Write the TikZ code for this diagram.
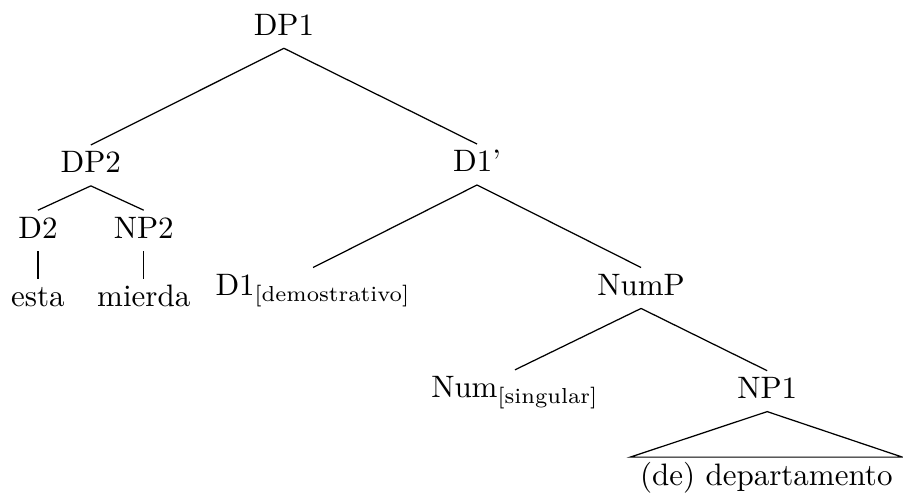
\documentclass[tikz,border=0pt]{standalone}
\usepackage{amsmath}
\usepackage{tikz}

\begin{document}
\begin{tikzpicture}[x=1cm,y=1cm,
  cat/.style={inner sep=1.8pt,text height=7pt,text depth=2.2pt,anchor=base}]
  \useasboundingbox (0,0) rectangle (10.24,-5.59);
  \node[cat] (dp1) at (3.22,-0.40) {DP1};
  \node[cat] (dp2) at (1.03,-1.96) {DP2};
  \node[cat] (d1bar) at (5.41,-1.95) {D1'};
  \node[cat] (d2) at (0.43,-2.70) {D2};
  \node[cat] (np2) at (1.63,-2.70) {NP2};
  \node[cat] (esta) at (0.43,-3.48) {esta};
  \node[cat] (mierda) at (1.63,-3.48) {mierda};
  \node[cat] (d1) at (3.55,-3.35) {D1$_{\text{[demostrativo]}}$};
  \node[cat] (nump) at (7.27,-3.35) {NumP};
  \node[cat] (num) at (5.84,-4.51) {Num$_{\text{[singular]}}$};
  \node[cat] (np1) at (8.70,-4.52) {NP1};
  \node[cat,inner xsep=3pt] (dep) at (8.69,-5.50) {(de) departamento};
  \draw (dp1.south) -- (dp2.north);
  \draw (dp1.south) -- (d1bar.north);
  \draw (dp2.south) -- (d2.north);
  \draw (dp2.south) -- (np2.north);
  \draw (d2.south) -- (esta.north);
  \draw (np2.south) -- (mierda.north);
  \draw (d1bar.south) -- (d1.north);
  \draw (d1bar.south) -- (nump.north);
  \draw (nump.south) -- (num.north);
  \draw (nump.south) -- (np1.north);
  \draw (np1.south) -- (dep.north west) -- (dep.north east) -- cycle;
\end{tikzpicture}
\end{document}
